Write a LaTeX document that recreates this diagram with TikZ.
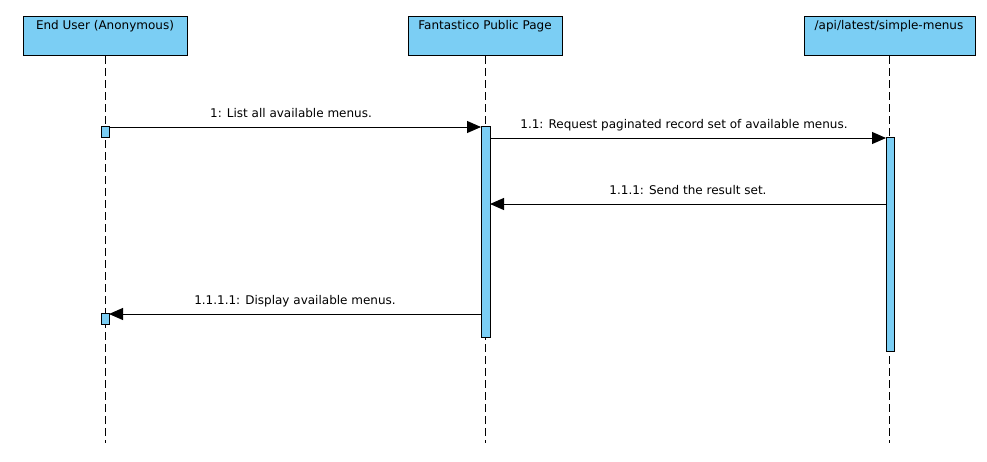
\documentclass[tikz,border=0pt]{standalone}
\usepackage{fontspec}
\setmainfont{DejaVu Sans}
\usetikzlibrary{arrows.meta}
\definecolor{actblue}{HTML}{7BCEF4}
\begin{document}
\begin{tikzpicture}[x=1pt,y=-1pt,
  header/.style={draw=black,fill=actblue,line width=1pt,minimum height=39pt,inner sep=0pt,anchor=north west},
  htext/.style={font=\fontsize{12}{14}\selectfont,inner sep=0pt,anchor=base},
  lifeline/.style={draw=black,line width=0.9pt,dash pattern=on 8pt off 4pt},
  actbar/.style={draw=black,fill=actblue,line width=1pt,minimum width=8pt,inner sep=0pt,anchor=north},
  msg/.style={draw=black,line width=1pt,-{Triangle[length=14pt,width=12pt]}},
  mlabel/.style={font=\fontsize{12}{14}\selectfont,inner sep=0pt,anchor=base}
]
\useasboundingbox (0,0) rectangle (987,461);
% headers
\node[header,minimum width=164pt] (h1) at (23,16) {};
\node[header,minimum width=154pt] (h2) at (408,16) {};
\node[header,minimum width=171pt] (h3) at (804,16) {};
\node[htext] (t1) at (105,29) {End User (Anonymous)};
\node[htext] (t2) at (485,29) {Fantastico Public Page};
\node[htext] (t3) at (889,29) {/api/latest/simple-menus};
% lifelines
\coordinate (e1) at (105,443);
\coordinate (e2) at (485,443);
\coordinate (e3) at (889,443);
\draw[lifeline] (h1.south -| t1) -- (e1);
\draw[lifeline] (h2.south -| t2) -- (e2);
\draw[lifeline] (h3.south -| t3) -- (e3);
% activation bars
\node[actbar,minimum height=11pt] (a1) at (105,126) {};
\node[actbar,minimum height=11pt] (a4) at (105,313) {};
\node[actbar,minimum width=9pt,minimum height=211pt] (a2) at (485.5,126) {};
\node[actbar,minimum height=214pt] (a3) at (890,137) {};
% messages
\coordinate (m1s) at (109,127);
\coordinate (m1e) at (481,127);
\coordinate (m2s) at (490,138);
\coordinate (m2e) at (886,138);
\coordinate (m3s) at (886,204);
\coordinate (m3e) at (490,204);
\coordinate (m4s) at (481,314);
\coordinate (m4e) at (109,314);
\draw[msg] (m1s) -- (m1e);
\draw[msg] (m2s) -- (m2e);
\draw[msg] (m3s) -- (m3e);
\draw[msg] (m4s) -- (m4e);
\node[mlabel] (l1) at (291,117) {1: List all available menus.};
\node[mlabel] (l2) at (684,128) {1.1: Request paginated record set of available menus.};
\node[mlabel] (l3) at (688,194) {1.1.1: Send the result set.};
\node[mlabel] (l4) at (295,304) {1.1.1.1: Display available menus.};
\end{tikzpicture}
\end{document}
